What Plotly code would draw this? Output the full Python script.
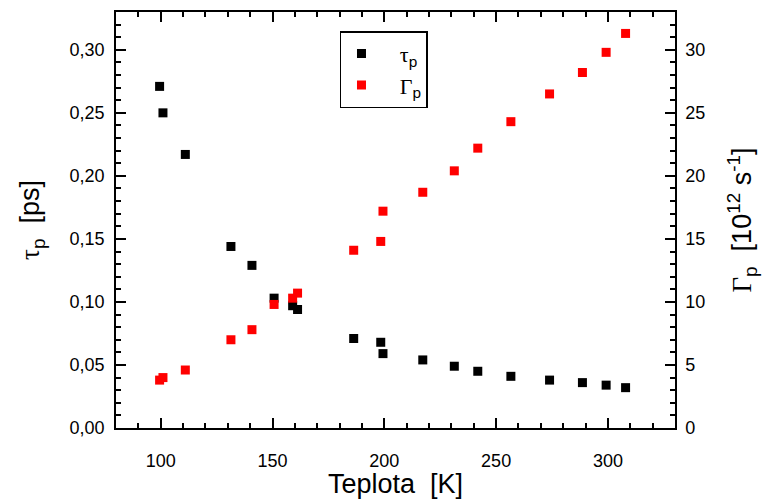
import plotly.graph_objects as go

# Data
temperature_K = [99.5, 101.0, 111.0, 131.4, 140.8, 150.7, 159.0, 161.2, 186.3, 198.4,
                 199.4, 217.2, 231.3, 241.8, 256.6, 273.9, 288.6, 299.2, 307.9]
tau_p_ps = [0.271, 0.250, 0.217, 0.144, 0.129, 0.103, 0.097, 0.094, 0.071, 0.068,
            0.059, 0.054, 0.049, 0.045, 0.041, 0.038, 0.036, 0.034, 0.032]
gamma_p = [3.8, 4.0, 4.6, 7.0, 7.8, 9.8, 10.3, 10.7, 14.1, 14.8,
           17.2, 18.7, 20.4, 22.2, 24.3, 26.5, 28.2, 29.8, 31.3]

SANS = "Liberation Sans, Arial, sans-serif"
SERIF = "Liberation Serif, Times New Roman, serif"
NB = "\u00a0"

fig = go.Figure()
fig.add_trace(go.Scatter(
    x=temperature_K, y=tau_p_ps, mode="markers",
    marker=dict(symbol="square", size=9, color="black"),
    name=NB * 3 + f"<span style='font-family:{SERIF}'>τ</span><sub>p</sub>",
    yaxis="y"))
fig.add_trace(go.Scatter(
    x=temperature_K, y=gamma_p, mode="markers",
    marker=dict(symbol="square", size=9, color="#ff0000"),
    name=NB * 3 + f"<span style='font-family:{SERIF}'>Γ</span><sub>p</sub>",
    yaxis="y2"))

axis_common = dict(
    showline=True, linecolor="black", linewidth=1.5,
    ticks="inside", ticklen=10, tickwidth=1.5, tickcolor="black",
    showgrid=False, zeroline=False, automargin=False,
    tickfont=dict(family=SANS, size=18, color="black"),
)

fig.update_layout(
    width=762, height=499,
    margin=dict(l=116, r=87, t=12, b=71),
    paper_bgcolor="white", plot_bgcolor="white",
    separators=",.",
    font=dict(family=SANS, color="black"),
    xaxis=dict(
        range=[80, 330], dtick=50, tick0=0, mirror="ticks",
        minor=dict(dtick=10, ticklen=5, tickwidth=1.5, tickcolor="black", ticks="inside"),
        ticklabelstandoff=16,
        title=dict(text="Teplota  [K]", font=dict(family=SANS, size=27), standoff=4),
        **axis_common),
    yaxis=dict(
        range=[0, 0.33], dtick=0.05, tick0=0, tickformat=".2f",
        minor=dict(dtick=0.01, ticklen=5, tickwidth=1.5, tickcolor="black", ticks="inside"),
        ticklabelstandoff=6,
        title=dict(text=f"<span style='font-family:{SERIF}'>τ</span><sub>p</sub>  [ps]",
                   font=dict(family=SANS, size=27), standoff=22),
        **axis_common),
    yaxis2=dict(
        range=[0, 33], dtick=5, tick0=0, overlaying="y", side="right",
        minor=dict(dtick=1, ticklen=5, tickwidth=1.5, tickcolor="black", ticks="inside"),
        ticklabelstandoff=5,
        title=dict(text=f"<span style='font-family:{SERIF}'>Γ</span><sub>p</sub>  [10<sup>12</sup> s<sup>-1</sup>]",
                   font=dict(family=SANS, size=27), standoff=28),
        **axis_common),
    legend=dict(
        x=0.4007, y=0.954, xanchor="left", yanchor="top",
        bordercolor="black", borderwidth=1.5, bgcolor="white",
        font=dict(family=SANS, size=22, color="black"),
        itemwidth=30,
    ),
    showlegend=True,
)

fig.write_html("out.html")
